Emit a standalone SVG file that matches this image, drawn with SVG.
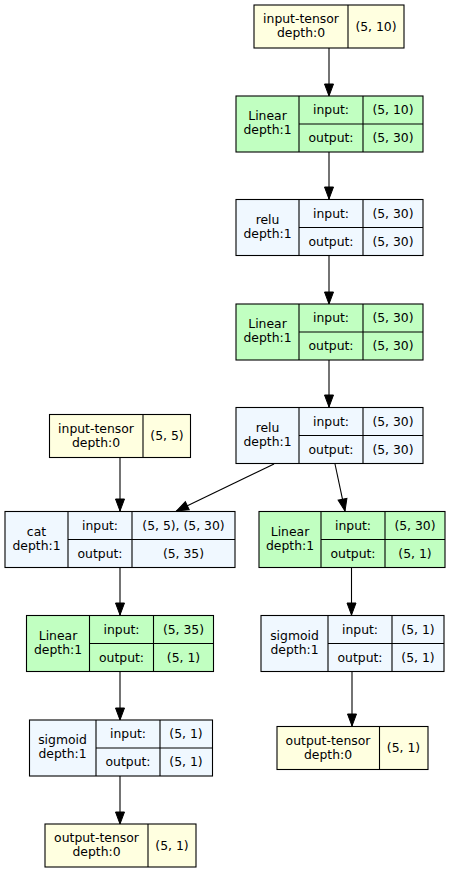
<svg xmlns="http://www.w3.org/2000/svg" width="451" height="872" viewBox="0 0 451 872">
<defs>
<marker id="arr" markerUnits="userSpaceOnUse" markerWidth="16" markerHeight="14" refX="13" refY="6" orient="auto">
<path d="M1,1.5 L13,6 L1,10.5 z" fill="#000" stroke="#000" stroke-width="1"/>
</marker>
<style>
text{font-family:"DejaVu Sans",Verdana,sans-serif;font-size:12.4px;text-anchor:middle;fill:#000}
.box{stroke:#000;stroke-width:1.1}
.y{fill:#ffffe0}.g{fill:#c1ffc1}.b{fill:#f0f8ff}
.ln{stroke:#000;stroke-width:1.1;fill:none}
.e{stroke:#000;stroke-width:1.1;fill:none;marker-end:url(#arr)}
</style>
</defs>
<rect width="451" height="872" fill="#fff"/>
<g id="edges">
<path class="e" d="M329,48 L329,96"/>
<path class="e" d="M329,152 L329,199"/>
<path class="e" d="M329,256 L329,304"/>
<path class="e" d="M329,360 L329,407"/>
<path class="e" d="M120,457 L120,511"/>
<path class="e" d="M274,464 L176.5,511"/>
<path class="e" d="M335,464 L345,511"/>
<path class="e" d="M120,567 L120,615"/>
<path class="e" d="M351.5,567 L351.5,615"/>
<path class="e" d="M120,672 L120,720"/>
<path class="e" d="M120,776 L120,824"/>
<path class="e" d="M352,672 L352,726"/>
</g>
<g id="n1">
<rect class="box y" x="254" y="5" width="150" height="43"/>
<path class="ln" d="M348,5 V48"/>
<text x="301" y="23">input-tensor</text><text x="301" y="37">depth:0</text>
<text x="376" y="30.5">(5, 10)</text>
</g>
<g id="n2">
<rect class="box g" x="236" y="96" width="187" height="56"/>
<path class="ln" d="M299,96 V152 M363,96 V152 M299,124 H423"/>
<text x="267.5" y="120">Linear</text><text x="267.5" y="134">depth:1</text>
<text x="331" y="114">input:</text><text x="393" y="114">(5, 10)</text>
<text x="331" y="142">output:</text><text x="393" y="142">(5, 30)</text>
</g>
<g id="n3">
<rect class="box b" x="236" y="199.5" width="187" height="56"/>
<path class="ln" d="M299,199.5 V255.5 M363,199.5 V255.5 M299,227.5 H423"/>
<text x="267.5" y="223.5">relu</text><text x="267.5" y="237.5">depth:1</text>
<text x="331" y="217.5">input:</text><text x="393" y="217.5">(5, 30)</text>
<text x="331" y="245.5">output:</text><text x="393" y="245.5">(5, 30)</text>
</g>
<g id="n4">
<rect class="box g" x="236" y="304" width="187" height="56"/>
<path class="ln" d="M299,304 V360 M363,304 V360 M299,332 H423"/>
<text x="267.5" y="328">Linear</text><text x="267.5" y="342">depth:1</text>
<text x="331" y="322">input:</text><text x="393" y="322">(5, 30)</text>
<text x="331" y="350">output:</text><text x="393" y="350">(5, 30)</text>
</g>
<g id="n5">
<rect class="box b" x="236" y="407.5" width="187" height="56"/>
<path class="ln" d="M299,407.5 V463.5 M363,407.5 V463.5 M299,435.5 H423"/>
<text x="267.5" y="431.5">relu</text><text x="267.5" y="445.5">depth:1</text>
<text x="331" y="425.5">input:</text><text x="393" y="425.5">(5, 30)</text>
<text x="331" y="453.5">output:</text><text x="393" y="453.5">(5, 30)</text>
</g>
<g id="n6">
<rect class="box y" x="49.5" y="414.5" width="141" height="43"/>
<path class="ln" d="M143,414.5 V457.5"/>
<text x="96" y="432.5">input-tensor</text><text x="96" y="446.5">depth:0</text>
<text x="167" y="440">(5, 5)</text>
</g>
<g id="n7">
<rect class="box b" x="5" y="511.5" width="230" height="56"/>
<path class="ln" d="M68,511.5 V567.5 M132,511.5 V567.5 M68,539.5 H235"/>
<text x="36.5" y="535.5">cat</text><text x="36.5" y="549.5">depth:1</text>
<text x="100" y="529.5">input:</text><text x="183.5" y="529.5">(5, 5), (5, 30)</text>
<text x="100" y="557.5">output:</text><text x="183.5" y="557.5">(5, 35)</text>
</g>
<g id="n8">
<rect class="box g" x="259" y="511.5" width="186" height="56"/>
<path class="ln" d="M321,511.5 V567.5 M385,511.5 V567.5 M321,539.5 H445"/>
<text x="290" y="535.5">Linear</text><text x="290" y="549.5">depth:1</text>
<text x="353" y="529.5">input:</text><text x="415" y="529.5">(5, 30)</text>
<text x="353" y="557.5">output:</text><text x="415" y="557.5">(5, 1)</text>
</g>
<g id="n9">
<rect class="box g" x="26.5" y="615.5" width="187" height="56"/>
<path class="ln" d="M89.5,615.5 V671.5 M153.5,615.5 V671.5 M89.5,643.5 H213.5"/>
<text x="58" y="639.5">Linear</text><text x="58" y="653.5">depth:1</text>
<text x="121.5" y="633.5">input:</text><text x="183.5" y="633.5">(5, 35)</text>
<text x="121.5" y="661.5">output:</text><text x="183.5" y="661.5">(5, 1)</text>
</g>
<g id="n10">
<rect class="box b" x="261" y="615.5" width="183" height="56"/>
<path class="ln" d="M328,615.5 V671.5 M392,615.5 V671.5 M328,643.5 H444"/>
<text x="294.5" y="639.5">sigmoid</text><text x="294.5" y="653.5">depth:1</text>
<text x="360" y="633.5">input:</text><text x="418" y="633.5">(5, 1)</text>
<text x="360" y="661.5">output:</text><text x="418" y="661.5">(5, 1)</text>
</g>
<g id="n11">
<rect class="box b" x="29.5" y="720" width="183" height="56"/>
<path class="ln" d="M96,720 V776 M160,720 V776 M96,748 H212.5"/>
<text x="62.5" y="744">sigmoid</text><text x="62.5" y="758">depth:1</text>
<text x="128" y="738">input:</text><text x="186" y="738">(5, 1)</text>
<text x="128" y="766">output:</text><text x="186" y="766">(5, 1)</text>
</g>
<g id="n12">
<rect class="box y" x="277" y="726.5" width="151" height="43"/>
<path class="ln" d="M379.5,726.5 V769.5"/>
<text x="328" y="744.5">output-tensor</text><text x="328" y="758.5">depth:0</text>
<text x="403.5" y="752">(5, 1)</text>
</g>
<g id="n13">
<rect class="box y" x="45" y="824" width="151" height="43"/>
<path class="ln" d="M148,824 V867"/>
<text x="96.5" y="842">output-tensor</text><text x="96.5" y="856">depth:0</text>
<text x="172" y="849.5">(5, 1)</text>
</g>
</svg>
